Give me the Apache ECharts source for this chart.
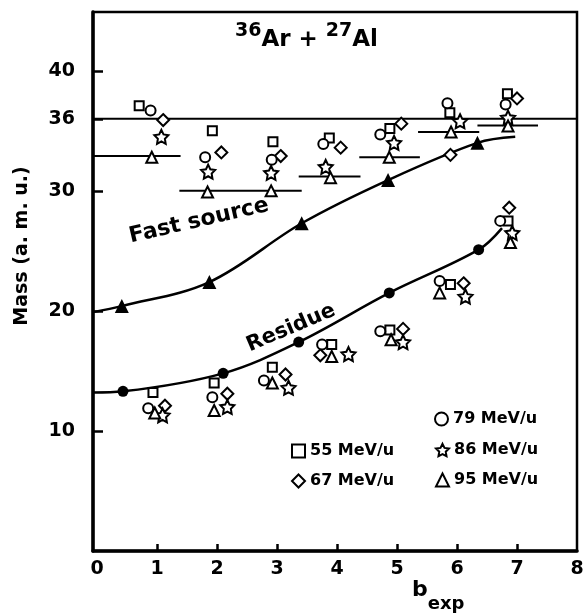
<!DOCTYPE html>
<html>
<head>
<meta charset="utf-8">
<script src="https://cdn.jsdelivr.net/npm/echarts@6/dist/echarts.min.js"></script>
<style>html,body{margin:0;padding:0;background:#fff}#chart{width:587px;height:615px}</style>
</head>
<body>
<div id="chart"></div>
<script>
// axis ticks / labels
var xTicks = [1, 2, 3, 4, 5, 6, 7];
var xLabels = [0, 1, 2, 3, 4, 5, 6, 7, 8];
var yLabels = [10, 20, 30, 36, 40];

// measured masses per beam energy (upper = fast source, lower = residue)
var e55 = [[0.70,37.1],[1.92,35.0],[2.93,34.1],[3.87,34.4],[4.88,35.2],[5.88,36.5],[6.84,38.1],
           [0.93,13.2],[1.95,14.0],[2.92,15.3],[3.91,17.2],[4.88,18.4],[5.89,22.2],[6.85,27.5]];
var e67 = [[1.10,35.9],[2.07,33.2],[3.06,32.9],[4.06,33.6],[5.07,35.6],[5.89,33.0],[7.00,37.7],
           [1.13,12.1],[2.17,13.1],[3.14,14.7],[3.72,16.3],[5.10,18.5],[6.11,22.3],[6.87,28.6]];
var e79 = [[0.89,36.7],[1.80,32.8],[2.91,32.6],[3.77,33.9],[4.72,34.7],[5.84,37.3],[6.81,37.2],
           [0.85,11.9],[1.92,12.8],[2.78,14.2],[3.75,17.2],[4.72,18.3],[5.71,22.5],[6.72,27.5]];
var e86 = [[1.07,34.5],[1.85,31.6],[2.90,31.5],[3.81,32.0],[4.95,34.0],[6.05,35.8],[6.85,36.1],
           [1.09,11.3],[2.17,12.0],[3.19,13.6],[4.19,16.4],[5.10,17.4],[6.14,21.2],[6.92,26.5]];
var e95 = [[0.91,32.8],[1.84,29.9],[2.90,30.0],[3.89,31.1],[4.87,32.8],[5.90,34.9],[6.85,35.4],
           [0.96,11.5],[1.95,11.7],[2.92,14.0],[3.91,16.2],[4.90,17.6],[5.71,21.5],[6.89,25.7]];

// fast source and residue curves (first/last entries are curve ends, others carry markers)
var fastCurve = [[-0.07,19.9],[0.41,20.4],[1.87,22.4],[3.41,27.3],[4.85,30.9],[6.34,34.0],[6.97,34.5]];
var residueCurve = [[-0.07,13.2],[0.43,13.3],[2.10,14.8],[3.36,17.4],[4.87,21.5],[6.36,25.1],[6.75,26.9]];

// mean plateau segments
var plateauFrom = [-0.07, 1.37, 3.36, 4.37, 5.35, 6.34];
var plateauTo   = [1.39, 3.41, 4.39, 5.38, 6.37, 7.35];
var plateauY    = [32.9, 30.0, 31.2, 32.8, 34.9, 35.45];
var beamMass = 36;

var FONT = 'DejaVu Sans';
var starPath = 'path://M50 0 L64.7 29.8 L97.6 34.5 L73.8 57.7 L79.4 90.5 L50 75 L20.6 90.5 L26.2 57.7 L2.4 34.5 L35.3 29.8 Z';

var chart = echarts.init(document.getElementById('chart'));

function openSeries(name, data, symbol, size) {
    return {
        name: name, type: 'scatter', data: data, symbol: symbol, symbolSize: size, z: 5,
        itemStyle: {color: '#fff', borderColor: '#000', borderWidth: 2, opacity: 1}
    };
}

var series = [];
series.push({
    type: 'line', data: [[-0.07, beamMass], [8, beamMass]], symbol: 'none',
    lineStyle: {color: '#000', width: 2}, z: 2
});
plateauY.forEach(function (v, i) {
    series.push({
        type: 'line', data: [[plateauFrom[i], v], [plateauTo[i], v]], symbol: 'none',
        lineStyle: {color: '#000', width: 2}, z: 2
    });
});
series.push({
    type: 'line', data: fastCurve, smooth: 0.35, symbol: 'none',
    lineStyle: {color: '#000', width: 2.5}, z: 2
});
series.push({
    type: 'scatter', data: fastCurve.slice(1, 6), symbol: 'triangle', symbolSize: 14,
    itemStyle: {color: '#000', opacity: 1}, z: 4
});
series.push({
    type: 'line', data: residueCurve, smooth: 0.35, symbol: 'none',
    lineStyle: {color: '#000', width: 2.5}, z: 2
});
series.push({
    type: 'scatter', data: residueCurve.slice(1, 6), symbol: 'circle', symbolSize: 11,
    itemStyle: {color: '#000', opacity: 1}, z: 4
});
series.push(openSeries('55 MeV/u', e55, 'rect', 9));
series.push(openSeries('67 MeV/u', e67, 'diamond', 12));
series.push(openSeries('79 MeV/u', e79, 'circle', 10));
series.push(openSeries('86 MeV/u', e86, starPath, 14));
series.push(openSeries('95 MeV/u', e95, 'triangle', 11));

var legendText = {fontFamily: FONT, fontWeight: 'bold', fontSize: 16, color: '#000'};
function legend(names, left, top) {
    return {
        data: names, orient: 'vertical', left: left, top: top, itemGap: 14,
        itemWidth: 13, itemHeight: 13, selectedMode: false, textStyle: legendText, padding: 0
    };
}

var option = {
    animation: false,
    backgroundColor: '#fff',
    grid: {left: 93, right: 10, top: 12, bottom: 64, show: true, borderColor: '#000', borderWidth: 2.5},
    legend: [
        legend(['79 MeV/u'], 434, 411),
        legend(['55 MeV/u', '67 MeV/u'], 291, 443),
        legend(['86 MeV/u', '95 MeV/u'], 435, 442)
    ],
    xAxis: {
        type: 'value', min: -0.07, max: 8,
        axisLine: {onZero: false, lineStyle: {color: '#000', width: 3.5}},
        axisTick: {inside: true, length: 7, lineStyle: {color: '#000', width: 2.5}, customValues: xTicks},
        axisLabel: {customValues: xLabels, fontFamily: FONT, fontWeight: 'bold', fontSize: 19, color: '#000', margin: 9},
        splitLine: {show: false}
    },
    yAxis: {
        type: 'value', min: 0, max: 44.9,
        axisLine: {show: true, onZero: false, lineStyle: {color: '#000', width: 3.5}},
        axisTick: {show: true, inside: true, length: 10, lineStyle: {color: '#000', width: 2.5}, customValues: yLabels},
        axisLabel: {customValues: yLabels, fontFamily: FONT, fontWeight: 'bold', fontSize: 19, color: '#000', margin: 18},
        splitLine: {show: false}
    },
    graphic: [
        {
            type: 'text', left: 235, top: 22,
            style: {
                text: '{s|36}{m|Ar + }{s|27}{m|Al}',
                rich: {
                    s: {fontFamily: FONT, fontWeight: 'bold', fontSize: 19, lineHeight: 30, verticalAlign: 'top', fill: '#000'},
                    m: {fontFamily: FONT, fontWeight: 'bold', fontSize: 23, lineHeight: 30, verticalAlign: 'bottom', fill: '#000'}
                }
            }
        },
        {
            type: 'text', x: 199, y: 221, rotation: 0.227,
            style: {text: 'Fast source', fontFamily: FONT, fontWeight: 'bold', fontSize: 22, fill: '#000', align: 'center', verticalAlign: 'middle'}
        },
        {
            type: 'text', x: 291, y: 328, rotation: 0.40,
            style: {text: 'Residue', fontFamily: FONT, fontWeight: 'bold', fontSize: 21, fill: '#000', align: 'center', verticalAlign: 'middle'}
        },
        {
            type: 'text', x: 22, y: 246, rotation: Math.PI / 2,
            style: {text: 'Mass (a. m. u.)', fontFamily: FONT, fontWeight: 'bold', fontSize: 19, fill: '#000', align: 'center', verticalAlign: 'middle'}
        },
        {
            type: 'text', left: 412, top: 579,
            style: {
                text: '{b|b}{s|exp}',
                rich: {
                    b: {fontFamily: FONT, fontWeight: 'bold', fontSize: 22, lineHeight: 34, verticalAlign: 'top', fill: '#000'},
                    s: {fontFamily: FONT, fontWeight: 'bold', fontSize: 18, lineHeight: 34, verticalAlign: 'bottom', fill: '#000'}
                }
            }
        }
    ],
    series: series
};
chart.setOption(option);
</script>
</body>
</html>
